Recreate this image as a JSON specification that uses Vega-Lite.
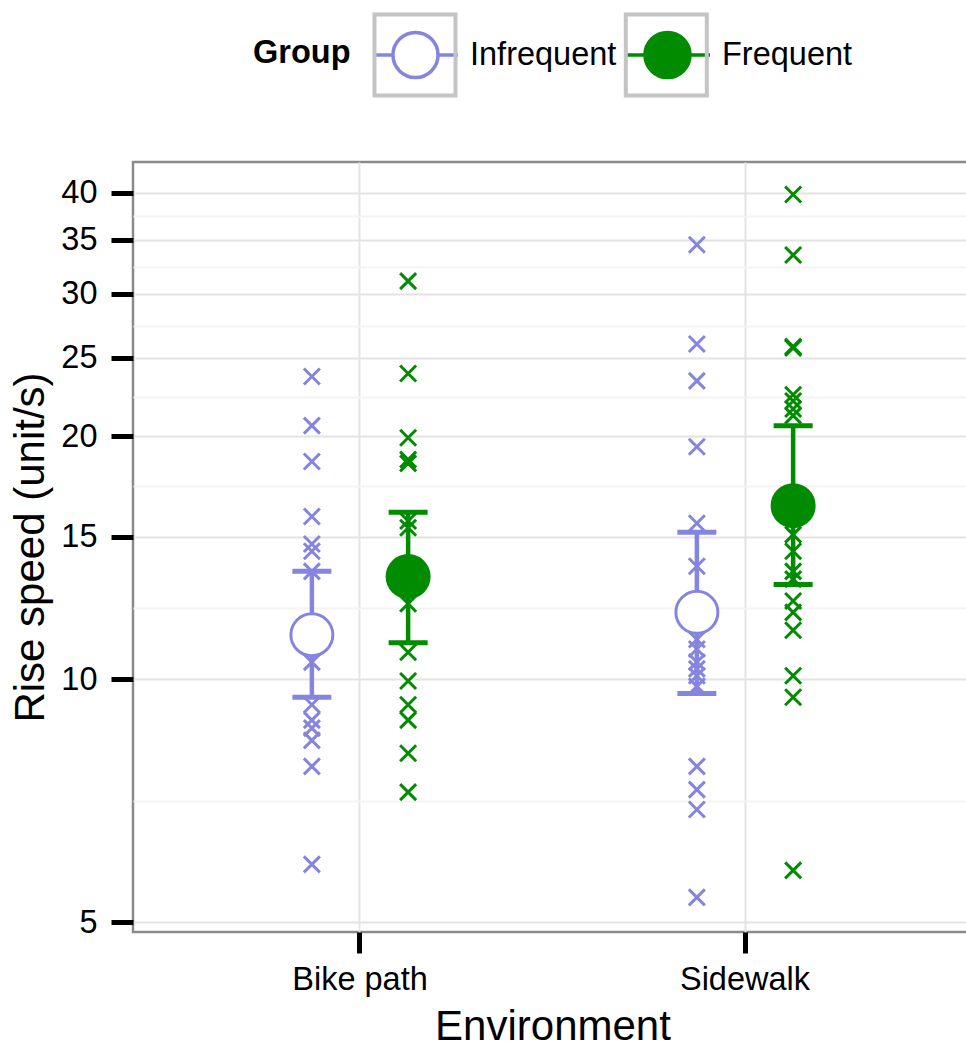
{
  "$schema": "https://vega.github.io/schema/vega-lite/v6.json",
  "width": 839,
  "height": 770,
  "autosize": {"type": "none"},
  "padding": {"left": 133, "top": 162, "right": 0, "bottom": 116},
  "background": "white",
  "datasets": {
    "obs": [
      {"Environment": "Bike path", "Group": "Infrequent", "speed": 23.7},
      {"Environment": "Bike path", "Group": "Infrequent", "speed": 20.6},
      {"Environment": "Bike path", "Group": "Infrequent", "speed": 18.6},
      {"Environment": "Bike path", "Group": "Infrequent", "speed": 15.9},
      {"Environment": "Bike path", "Group": "Infrequent", "speed": 14.7},
      {"Environment": "Bike path", "Group": "Infrequent", "speed": 14.4},
      {"Environment": "Bike path", "Group": "Infrequent", "speed": 13.6},
      {"Environment": "Bike path", "Group": "Infrequent", "speed": 10.5},
      {"Environment": "Bike path", "Group": "Infrequent", "speed": 9.3},
      {"Environment": "Bike path", "Group": "Infrequent", "speed": 8.9},
      {"Environment": "Bike path", "Group": "Infrequent", "speed": 8.7},
      {"Environment": "Bike path", "Group": "Infrequent", "speed": 8.4},
      {"Environment": "Bike path", "Group": "Infrequent", "speed": 7.8},
      {"Environment": "Bike path", "Group": "Infrequent", "speed": 5.9},
      {"Environment": "Bike path", "Group": "Frequent", "speed": 31.1},
      {"Environment": "Bike path", "Group": "Frequent", "speed": 23.9},
      {"Environment": "Bike path", "Group": "Frequent", "speed": 19.9},
      {"Environment": "Bike path", "Group": "Frequent", "speed": 18.7},
      {"Environment": "Bike path", "Group": "Frequent", "speed": 18.5},
      {"Environment": "Bike path", "Group": "Frequent", "speed": 15.7},
      {"Environment": "Bike path", "Group": "Frequent", "speed": 15.4},
      {"Environment": "Bike path", "Group": "Frequent", "speed": 12.4},
      {"Environment": "Bike path", "Group": "Frequent", "speed": 10.8},
      {"Environment": "Bike path", "Group": "Frequent", "speed": 9.95},
      {"Environment": "Bike path", "Group": "Frequent", "speed": 9.3},
      {"Environment": "Bike path", "Group": "Frequent", "speed": 8.9},
      {"Environment": "Bike path", "Group": "Frequent", "speed": 8.1},
      {"Environment": "Bike path", "Group": "Frequent", "speed": 7.25},
      {"Environment": "Sidewalk", "Group": "Infrequent", "speed": 34.5},
      {"Environment": "Sidewalk", "Group": "Infrequent", "speed": 26.0},
      {"Environment": "Sidewalk", "Group": "Infrequent", "speed": 23.4},
      {"Environment": "Sidewalk", "Group": "Infrequent", "speed": 19.4},
      {"Environment": "Sidewalk", "Group": "Infrequent", "speed": 15.6},
      {"Environment": "Sidewalk", "Group": "Infrequent", "speed": 13.8},
      {"Environment": "Sidewalk", "Group": "Infrequent", "speed": 11.2},
      {"Environment": "Sidewalk", "Group": "Infrequent", "speed": 10.9},
      {"Environment": "Sidewalk", "Group": "Infrequent", "speed": 10.5},
      {"Environment": "Sidewalk", "Group": "Infrequent", "speed": 10.3},
      {"Environment": "Sidewalk", "Group": "Infrequent", "speed": 10.1},
      {"Environment": "Sidewalk", "Group": "Infrequent", "speed": 9.8},
      {"Environment": "Sidewalk", "Group": "Infrequent", "speed": 7.8},
      {"Environment": "Sidewalk", "Group": "Infrequent", "speed": 7.3},
      {"Environment": "Sidewalk", "Group": "Infrequent", "speed": 6.9},
      {"Environment": "Sidewalk", "Group": "Infrequent", "speed": 5.37},
      {"Environment": "Sidewalk", "Group": "Frequent", "speed": 39.8},
      {"Environment": "Sidewalk", "Group": "Frequent", "speed": 33.5},
      {"Environment": "Sidewalk", "Group": "Frequent", "speed": 25.8},
      {"Environment": "Sidewalk", "Group": "Frequent", "speed": 25.7},
      {"Environment": "Sidewalk", "Group": "Frequent", "speed": 22.5},
      {"Environment": "Sidewalk", "Group": "Frequent", "speed": 22.1},
      {"Environment": "Sidewalk", "Group": "Frequent", "speed": 21.6},
      {"Environment": "Sidewalk", "Group": "Frequent", "speed": 21.2},
      {"Environment": "Sidewalk", "Group": "Frequent", "speed": 15.1},
      {"Environment": "Sidewalk", "Group": "Frequent", "speed": 14.4},
      {"Environment": "Sidewalk", "Group": "Frequent", "speed": 13.6},
      {"Environment": "Sidewalk", "Group": "Frequent", "speed": 13.3},
      {"Environment": "Sidewalk", "Group": "Frequent", "speed": 12.5},
      {"Environment": "Sidewalk", "Group": "Frequent", "speed": 12.1},
      {"Environment": "Sidewalk", "Group": "Frequent", "speed": 11.5},
      {"Environment": "Sidewalk", "Group": "Frequent", "speed": 10.1},
      {"Environment": "Sidewalk", "Group": "Frequent", "speed": 9.5},
      {"Environment": "Sidewalk", "Group": "Frequent", "speed": 5.8}
    ],
    "summary": [
      {"Environment": "Bike path", "Group": "Infrequent", "mean": 11.35, "lower": 9.5, "upper": 13.6},
      {"Environment": "Bike path", "Group": "Frequent", "mean": 13.4, "lower": 11.1, "upper": 16.1},
      {"Environment": "Sidewalk", "Group": "Infrequent", "mean": 12.1, "lower": 9.6, "upper": 15.2},
      {"Environment": "Sidewalk", "Group": "Frequent", "mean": 16.4, "lower": 13.1, "upper": 20.6}
    ]
  },
  "config": {
    "font": "Liberation Sans",
    "view": {"stroke": "#8a8a8a", "strokeWidth": 2.5}
  },
  "encoding": {
    "x": {
      "field": "Environment", "type": "nominal", "sort": ["Bike path", "Sidewalk"],
      "scale": {"type": "band", "paddingInner": 0, "paddingOuter": 0.0896},
      "axis": {
        "title": "Environment", "titleFontSize": 42, "titleFontWeight": "normal", "titleColor": "black",
        "titlePadding": 11, "labelFontSize": 32.5, "labelColor": "black", "labelPadding": 10, "labelAngle": 0,
        "tickSize": 21, "tickWidth": 5, "tickColor": "black", "domain": false,
        "grid": true, "gridColor": "#e3e3e3", "gridWidth": 2, "bandPosition": 0.5
      }
    },
    "xOffset": {
      "field": "Group", "type": "nominal", "sort": ["Infrequent", "Frequent"],
      "scale": {"paddingInner": 0, "paddingOuter": 1.048}
    }
  },
  "layer": [
    {
      "data": {"name": "obs"},
      "mark": {"type": "point", "shape": "M -1 -1 L 1 1 M -1 1 L 1 -1", "size": 256, "strokeWidth": 3, "filled": false, "opacity": 1},
      "encoding": {
        "y": {
          "field": "speed", "type": "quantitative",
          "scale": {"type": "log", "domain": [4.866, 43.67], "nice": false, "zero": false},
          "axis": {
            "title": "Rise speed (unit/s)", "titleFontSize": 42, "titleFontWeight": "normal", "titleColor": "black", "titlePadding": 8,
            "values": [5, 7.0711, 10, 12.2474, 15, 17.3205, 20, 22.3607, 25, 27.3861, 30, 32.4037, 35, 37.4166, 40],
            "labelExpr": "indexof([5,10,15,20,25,30,35,40], datum.value) >= 0 ? format(datum.value, 'd') : ''",
            "labelFontSize": 32.5, "labelColor": "black", "labelPadding": 14,
            "tickSize": 22, "tickWidth": 5,
            "tickColor": {"condition": {"test": "indexof([5,10,15,20,25,30,35,40], datum.value) >= 0", "value": "black"}, "value": "transparent"},
            "grid": true, "gridWidth": 2,
            "gridColor": {"condition": {"test": "indexof([5,10,15,20,25,30,35,40], datum.value) >= 0", "value": "#e3e3e3"}, "value": "#f4f4f4"},
            "domain": false
          }
        },
        "stroke": {"field": "Group", "type": "nominal", "scale": {"domain": ["Infrequent", "Frequent"], "range": ["#8585E0", "#008B00"]}},
        "opacity": {
          "field": "Group", "type": "nominal", "sort": ["Infrequent", "Frequent"],
          "scale": {"range": [1, 1]},
          "legend": {
            "title": null, "orient": "none", "legendX": 237.5, "legendY": -152, "direction": "horizontal",
            "labelExpr": "''", "labelFontSize": 32.5, "labelOffset": 10, "columnPadding": 147.3,
            "symbolType": "M -0.953 -0.953 L 0.953 -0.953 L 0.953 0.953 L -0.953 0.953 Z",
            "symbolSize": 7225, "symbolStrokeWidth": 4, "symbolStrokeColor": "#c4c4c4", "symbolFillColor": "transparent",
            "symbolOpacity": 1
          }
        }
      }
    },
    {
      "data": {"name": "summary"},
      "mark": {"type": "rule", "strokeWidth": 4.5},
      "encoding": {
        "y": {"field": "lower", "type": "quantitative", "title": "Rise speed (unit/s)"},
        "y2": {"field": "upper"},
        "stroke": {"field": "Group", "type": "nominal"}
      }
    },
    {
      "data": {"name": "summary"},
      "mark": {"type": "point", "shape": "M -1 0 L 1 0", "size": 1521, "strokeWidth": 5, "filled": false, "opacity": 1},
      "encoding": {
        "y": {"field": "lower", "type": "quantitative", "title": "Rise speed (unit/s)"},
        "stroke": {"field": "Group", "type": "nominal"}
      }
    },
    {
      "data": {"name": "summary"},
      "mark": {"type": "point", "shape": "M -1 0 L 1 0", "size": 1521, "strokeWidth": 5, "filled": false, "opacity": 1},
      "encoding": {
        "y": {"field": "upper", "type": "quantitative", "title": "Rise speed (unit/s)"},
        "stroke": {"field": "Group", "type": "nominal"}
      }
    },
    {
      "data": {"name": "summary"},
      "mark": {"type": "point", "shape": "circle", "size": 1764, "strokeWidth": 3, "filled": true, "opacity": 1},
      "encoding": {
        "y": {"field": "mean", "type": "quantitative", "title": "Rise speed (unit/s)"},
        "stroke": {
          "field": "Group", "type": "nominal",
          "legend": {
            "title": "Group", "orient": "none", "legendX": 120, "legendY": -152, "direction": "horizontal",
            "titleOrient": "left", "titleFontSize": 32.5, "titleFontWeight": "bold", "titleColor": "black", "titlePadding": 20,
            "titleBaseline": "line-top", "titleLineHeight": 12.6, "titleAnchor": "middle",
            "labelFontSize": 32.5, "labelColor": "black", "labelOffset": 10, "columnPadding": 1,
            "symbolType": "M -1 0 L -0.53 0 M 0.53 0 L 1 0 M -0.53 0 A 0.53 0.53 0 1 1 0.53 0 A 0.53 0.53 0 1 1 -0.53 0",
            "symbolSize": 7225, "symbolStrokeWidth": 3.5, "symbolOpacity": 1
          }
        },
        "fill": {
          "field": "Group", "type": "nominal",
          "scale": {"domain": ["Infrequent", "Frequent"], "range": ["#FFFFFF", "#008B00"]},
          "legend": {
            "title": "Group", "orient": "none", "legendX": 120, "legendY": -152, "direction": "horizontal",
            "titleOrient": "left", "titleFontSize": 32.5, "titleFontWeight": "bold", "titleColor": "black", "titlePadding": 20,
            "titleBaseline": "line-top", "titleLineHeight": 12.6, "titleAnchor": "middle",
            "labelFontSize": 32.5, "labelColor": "black", "labelOffset": 10, "columnPadding": 1,
            "symbolType": "M -1 0 L -0.53 0 M 0.53 0 L 1 0 M -0.53 0 A 0.53 0.53 0 1 1 0.53 0 A 0.53 0.53 0 1 1 -0.53 0",
            "symbolSize": 7225, "symbolStrokeWidth": 3.5, "symbolOpacity": 1
          }
        }
      }
    }
  ]
}
